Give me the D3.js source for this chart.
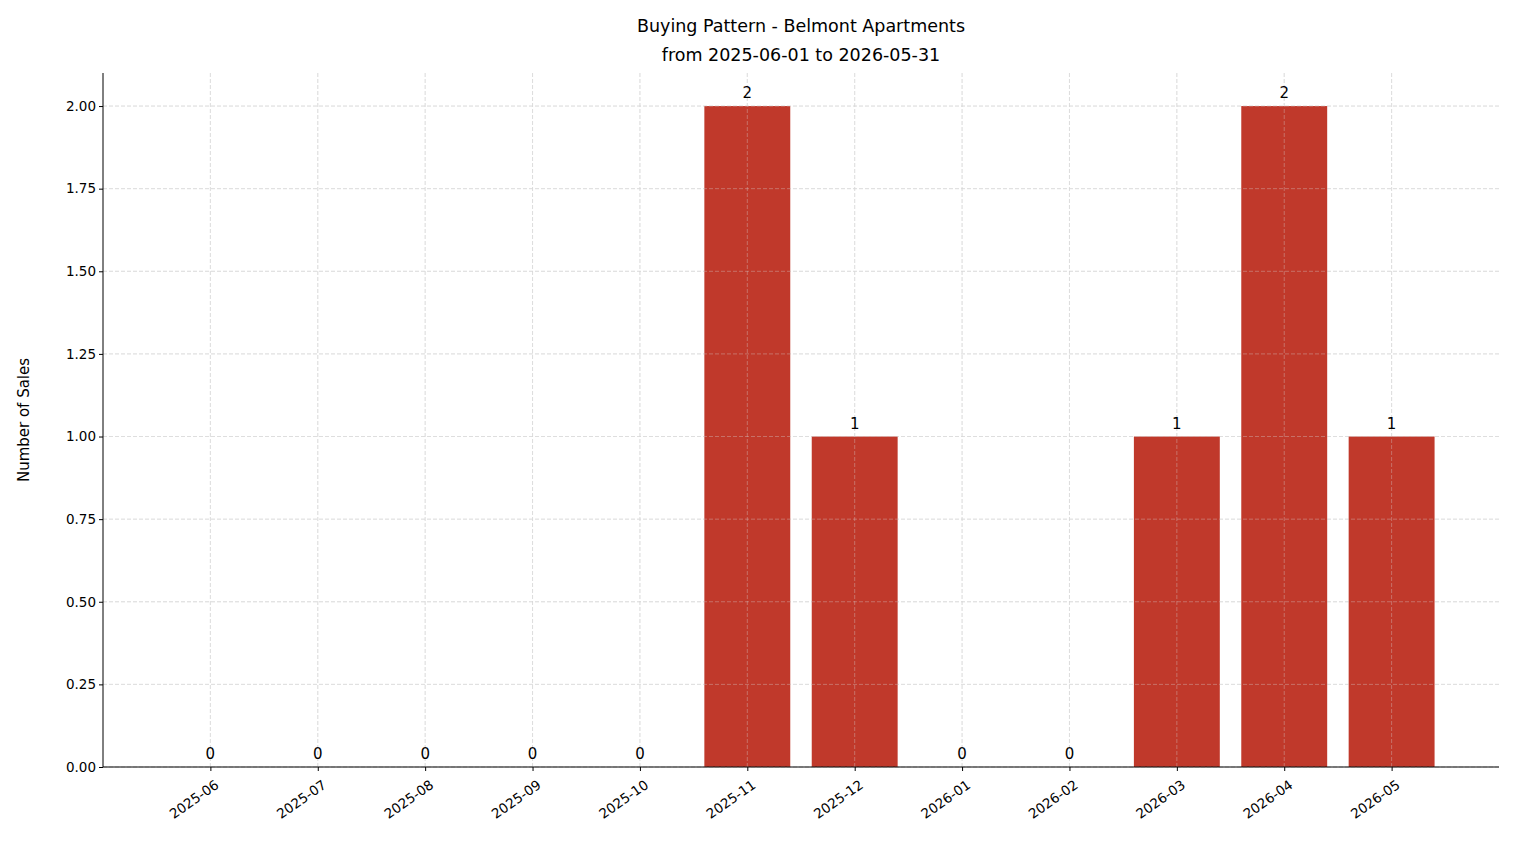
<!DOCTYPE html>
<html>
<head>
<script src="https://d3js.org/d3.v7.min.js"></script>
<style>
  body { margin: 0; background: #fff; font-family: "DejaVu Sans", sans-serif; }
</style>
</head>
<body>
<script>
const months = ["2025-06","2025-07","2025-08","2025-09","2025-10","2025-11","2025-12","2026-01","2026-02","2026-03","2026-04","2026-05"];
const sales = [0,0,0,0,0,2,1,0,0,1,2,1];
const yTicks = [0,0.25,0.5,0.75,1,1.25,1.5,1.75,2];

const W = 1514, H = 863;
const mLeft = 103, mRight = 1499, mTop = 73, mBottom = 767;
const svg = d3.select("body").append("svg").attr("width", W).attr("height", H);

const x = d3.scaleLinear().domain([-1, months.length]).range([mLeft, mRight]);
const y = d3.scaleLinear().domain([0, 2.1]).range([mBottom, mTop]);
const bw = 0.8 * (x(1) - x(0));

function grid(opacity) {
  const g = svg.append("g").attr("stroke", "#d9d9d9").attr("stroke-opacity", opacity)
    .attr("stroke-dasharray", "4,2").attr("stroke-width", 0.8);
  g.selectAll("line.h").data(yTicks).enter().append("line").attr("class", "h")
    .attr("x1", mLeft).attr("x2", mRight).attr("y1", d => y(d)).attr("y2", d => y(d));
  g.selectAll("line.v").data(months).enter().append("line").attr("class", "v")
    .attr("x1", (d, i) => x(i)).attr("x2", (d, i) => x(i)).attr("y1", mTop).attr("y2", mBottom);
}

grid(1);

// bars
svg.append("g").selectAll("rect").data(sales).enter().append("rect")
  .attr("x", (d, i) => x(i) - bw / 2).attr("width", bw)
  .attr("y", d => y(d)).attr("height", d => mBottom - y(d))
  .attr("fill", "#c0392b");

grid(0.45);

// value labels
svg.append("g").selectAll("text").data(sales).enter().append("text")
  .attr("x", (d, i) => x(i)).attr("y", d => y(d) - 8)
  .attr("text-anchor", "middle").attr("font-size", 15).attr("fill", "#000")
  .text(d => d);

// axes
const yAxis = svg.append("g").attr("transform", `translate(${mLeft},0)`)
  .call(d3.axisLeft(y).tickValues(yTicks).tickFormat(d3.format(".2f")).tickSizeOuter(0).tickSize(4));
yAxis.selectAll("text").attr("font-size", 13.5).attr("font-family", "DejaVu Sans").attr("fill", "#000");
yAxis.select(".domain").attr("d", `M0,${mBottom}V${mTop}`);

const xAxis = svg.append("g").attr("transform", `translate(0,${mBottom})`)
  .call(d3.axisBottom(x).tickValues(d3.range(months.length)).tickFormat(i => months[i]).tickSizeOuter(0).tickSize(4));
xAxis.select(".domain").attr("d", `M${mLeft},0H${mRight}`);
xAxis.selectAll("text").attr("font-size", 13.5).attr("font-family", "DejaVu Sans").attr("fill", "#000")
  .attr("text-anchor", "end").attr("dy", 0).attr("y", 0)
  .attr("transform", "translate(9,20) rotate(-35)");

svg.append("text").attr("transform", `translate(29,${(mTop + mBottom) / 2}) rotate(-90)`)
  .attr("text-anchor", "middle").attr("font-size", 15).text("Number of Sales");

svg.append("text").attr("x", (mLeft + mRight) / 2).attr("y", 32).attr("text-anchor", "middle")
  .attr("font-size", 17.5).text("Buying Pattern - Belmont Apartments");
svg.append("text").attr("x", (mLeft + mRight) / 2).attr("y", 61).attr("text-anchor", "middle")
  .attr("font-size", 17.5).text("from 2025-06-01 to 2026-05-31");
</script>
</body>
</html>
